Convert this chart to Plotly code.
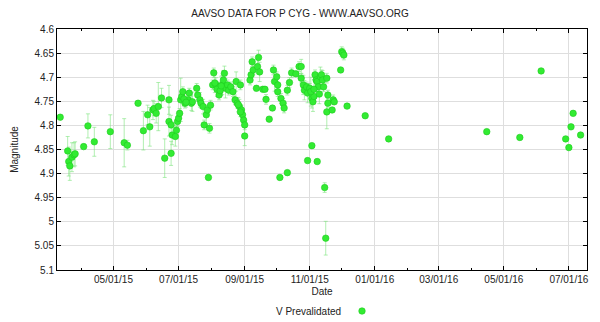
import plotly.graph_objects as go

dates = [
"2015-03-12","2015-03-19","2015-03-20","2015-03-21","2015-03-23","2015-03-25","2015-03-26","2015-04-03","2015-04-07","2015-04-13",
"2015-04-28","2015-05-11","2015-05-14","2015-05-24","2015-05-29","2015-06-02","2015-06-04","2015-06-07","2015-06-08","2015-06-10",
"2015-06-12","2015-06-15","2015-06-18","2015-06-22","2015-06-22","2015-06-24","2015-06-24","2015-06-25","2015-06-28","2015-06-29",
"2015-06-30","2015-07-01","2015-07-02","2015-07-03","2015-07-04","2015-07-05","2015-07-07","2015-07-10","2015-07-11","2015-07-13",
"2015-07-14","2015-07-18","2015-07-19","2015-07-21","2015-07-22","2015-07-24","2015-07-25","2015-07-27","2015-07-28","2015-07-29",
"2015-07-30","2015-07-31","2015-08-02","2015-08-03","2015-08-05","2015-08-08","2015-08-08","2015-08-11","2015-08-12","2015-08-13",
"2015-08-14","2015-08-16","2015-08-17","2015-08-19","2015-08-21","2015-08-23","2015-08-24","2015-08-25","2015-08-27","2015-08-28",
"2015-08-29","2015-08-30","2015-08-31","2015-09-01","2015-09-01","2015-09-06","2015-09-07","2015-09-08","2015-09-09","2015-09-12",
"2015-09-13","2015-09-14","2015-09-15","2015-09-18","2015-09-20","2015-09-21","2015-09-24","2015-09-27","2015-09-28","2015-09-29",
"2015-10-01","2015-10-02","2015-10-02","2015-10-04","2015-10-05","2015-10-07","2015-10-08","2015-10-11","2015-10-11","2015-10-13",
"2015-10-15","2015-10-19","2015-10-22","2015-10-24","2015-10-24","2015-10-26","2015-10-27","2015-10-29","2015-10-30","2015-10-30",
"2015-11-01","2015-11-03","2015-11-03","2015-11-04","2015-11-05","2015-11-06","2015-11-07","2015-11-08","2015-11-08","2015-11-09",
"2015-11-11","2015-11-12","2015-11-13","2015-11-14","2015-11-15","2015-11-16","2015-11-17","2015-11-17","2015-11-18","2015-11-18",
"2015-11-22","2015-11-23","2015-11-24","2015-11-30","2015-12-01","2015-12-02","2015-12-03","2015-12-06","2015-12-23","2016-01-14",
"2016-04-15","2016-05-16","2016-06-05","2016-06-28","2016-07-01","2016-07-03","2016-07-05","2016-07-12",
"2015-08-04","2015-08-06","2015-08-09","2015-08-10","2015-08-26","2015-08-28","2015-11-02","2015-11-05","2015-11-10","2015-07-06",
"2015-07-08"]

magnitudes = [
4.783,4.853,4.875,4.884,4.866,4.861,4.859,4.844,4.801,4.834,
4.813,4.836,4.841,4.754,4.811,4.778,4.803,4.768,4.765,4.775,
4.761,4.743,4.868,4.747,4.792,4.799,4.858,4.820,4.823,4.810,
4.792,4.785,4.775,4.747,4.740,4.730,4.754,4.747,4.733,4.754,
4.751,4.723,4.737,4.747,4.754,4.761,4.799,4.778,4.768,4.908,
4.806,4.758,4.716,4.691,4.716,4.720,4.737,4.716,4.706,4.692,
4.723,4.716,4.727,4.720,4.730,4.747,4.709,4.754,4.761,4.716,
4.768,4.778,4.789,4.799,4.822,4.706,4.695,4.668,4.685,4.723,
4.678,4.659,4.689,4.725,4.725,4.746,4.787,4.764,4.685,4.709,
4.699,4.716,4.730,4.908,4.744,4.754,4.764,4.727,4.898,4.711,
4.691,4.693,4.678,4.678,4.702,4.716,4.727,4.720,4.733,4.873,
4.723,4.744,4.842,4.751,4.740,4.695,4.706,4.709,4.875,4.720,
4.699,4.695,4.706,4.720,4.929,5.034,4.702,4.772,4.737,4.754,
4.768,4.747,4.751,4.685,4.647,4.650,4.654,4.760,4.780,4.828,
4.813,4.825,4.687,4.828,4.846,4.803,4.775,4.820,
4.712,4.725,4.728,4.718,4.757,4.772,4.730,4.725,4.735,4.745,
4.752]

uncertainties = [
0.005,0.03,0.03,0.03,0.03,0.025,0.025,0.005,0.025,0.03,
0.035,0.05,0.01,0.005,0.04,0.02,0.04,0.02,0.015,0.02,
0.05,0.02,0.04,0.03,0.03,0.02,0.025,0.02,0.02,0.01,
0.01,0.01,0.01,0.045,0.01,0.01,0.01,0.01,0.01,0.015,
0.02,0.01,0.01,0.015,0.01,0.015,0.01,0.02,0.01,0.005,
0.01,0.01,0.01,0.01,0.015,0.01,0.01,0.02,0.02,0.015,
0.02,0.01,0.01,0.01,0.01,0.01,0.02,0.01,0.015,0.01,
0.01,0.01,0.01,0.01,0.02,0.01,0.01,0.01,0.01,0.005,
0.015,0.015,0.02,0.005,0.005,0.01,0.005,0.005,0.01,0.02,
0.01,0.02,0.01,0.005,0.01,0.01,0.01,0.01,0.005,0.01,
0.01,0.005,0.01,0.015,0.01,0.02,0.02,0.01,0.02,0.005,
0.01,0.02,0.005,0.02,0.01,0.01,0.01,0.01,0.005,0.01,
0.02,0.01,0.02,0.01,0.01,0.035,0.01,0.035,0.01,0.01,
0.005,0.01,0.005,0.005,0.01,0.01,0.01,0.005,0.005,0.005,
0.005,0.005,0.005,0.005,0.005,0.005,0.005,0.005,
0.02,0.015,0.01,0.02,0.015,0.01,0.03,0.02,0.02,0.015,
0.01]

y_ticks = [4.6, 4.65, 4.7, 4.75, 4.8, 4.85, 4.9, 4.95, 5.0, 5.05, 5.1]
y_tick_labels = ["4.6", "4.65", "4.7", "4.75", "4.8", "4.85", "4.9", "4.95", "5", "5.05", "5.1"]
series_label = "V Prevalidated"

FONT = "Liberation Sans, Arial, sans-serif"

fig = go.Figure()
fig.add_trace(go.Scatter(
    x=dates, y=magnitudes, mode="markers", name=" ",
    error_y=dict(type="data", array=uncertainties, color="rgba(125,228,125,0.6)",
                 thickness=1, width=2),
    marker=dict(size=6.5, color="rgb(50,235,50)",
                line=dict(width=0.6, color="rgb(30,205,30)")),
    showlegend=True,
))

fig.add_annotation(text=series_label, xref="paper", yref="paper",
                   x=(343 - 57) / 530, xanchor="right", y=(270 - 311) / 241, yanchor="middle",
                   showarrow=False, font=dict(size=10, color="#222"))

fig.update_layout(
    width=600, height=322,
    margin=dict(l=57, r=13, t=29, b=52, autoexpand=False),
    paper_bgcolor="white", plot_bgcolor="white",
    font=dict(family=FONT, size=10, color="#222"),
    title=dict(text="AAVSO DATA FOR P CYG - WWW.AAVSO.ORG", x=0.5, xanchor="center",
               y=0.957, yanchor="middle", font=dict(size=10, color="#222")),
    showlegend=True,
    legend=dict(orientation="h", xref="container", yref="container",
                x=(342) / 600, xanchor="left", y=(322 - 311) / 322, yanchor="middle",
                font=dict(size=10), bgcolor="rgba(0,0,0,0)",
                itemwidth=30, tracegroupgap=0),
    xaxis=dict(
        type="date", range=["2015-03-09", "2016-07-18"],
        tick0="2015-01-01", dtick="M2", tickformat="%m/%d/%y",
        showline=True, linecolor="black", linewidth=1, mirror="ticks",
        ticks="inside", ticklen=4, tickcolor="black",
        showgrid=True, gridcolor="rgb(222,222,222)", gridwidth=1,
        minor=dict(ticks="inside", ticklen=2, tickcolor="black", nticks=6, showgrid=False),
        title=dict(text="Date", standoff=13, font=dict(size=10)),
        zeroline=False,
    ),
    yaxis=dict(
        range=[5.1, 4.6], tickvals=y_ticks, ticktext=y_tick_labels,
        showline=True, linecolor="black", linewidth=1, mirror="ticks",
        ticks="inside", ticklen=4, tickcolor="black",
        showgrid=True, gridcolor="rgb(222,222,222)", gridwidth=1,
        title=dict(text="Magnitude", standoff=14, font=dict(size=10)),
        zeroline=False,
    ),
)

fig.write_html("out.html")
